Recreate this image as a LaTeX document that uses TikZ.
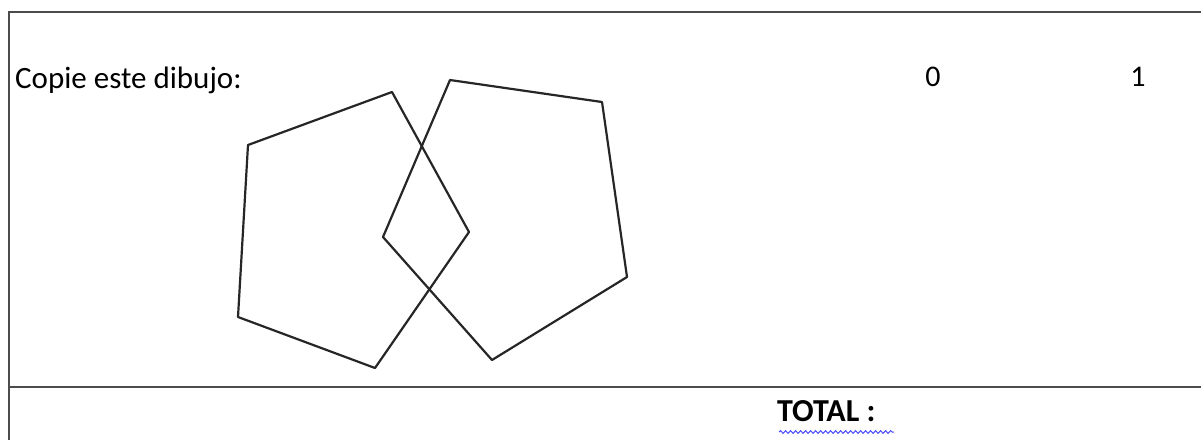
\documentclass[tikz,border=0pt]{standalone}
\usepackage{fontspec}
\setmainfont{Carlito}
\usetikzlibrary{decorations.pathmorphing}
\begin{document}
\begin{tikzpicture}[x=1pt, y=-1pt]
        \useasboundingbox (0,0) rectangle (1201,440);
        % Frame lines
        \draw[line width=2.8pt, black!70] (9,440) -- (9,12) -- (1201,12);
        \draw[line width=2.8pt, black!70] (9,387) -- (1201,387);

        % Labels
        \node[anchor=base west, font=\fontsize{31}{35}\selectfont, inner sep=0] (instr) at (15,88) {Copie este dibujo:};
        \node[font=\fontsize{30}{34}\selectfont] (zero) at (933,77) {0};
        \node[font=\fontsize{30}{34}\selectfont] (one) at (1138,77) {1};
        \node[anchor=base west, font=\bfseries\fontsize{32}{36}\selectfont, inner sep=0] (total) at (777,421) {TOTAL :};

        % Spell-check underline
        \coordinate (wl) at (779,432);
        \coordinate (wr) at (894,432);
        \draw[blue!70, line width=1pt, decorate, decoration={snake, amplitude=1.4pt, segment length=5pt}] (wl) -- (wr);

        % Left pentagon
        \coordinate (la) at (392,92);
        \coordinate (lb) at (248,145);
        \coordinate (lc) at (238,317);
        \coordinate (ld) at (375,368);
        \coordinate (le) at (469,232);
        \draw[line width=2.2pt, black!85, line join=round] (la) -- (lb) -- (lc) -- (ld) -- (le) -- cycle;

        % Right pentagon
        \coordinate (ra) at (450,80);
        \coordinate (rb) at (602,102);
        \coordinate (rc) at (627,277);
        \coordinate (rd) at (492,360);
        \coordinate (re) at (383,237);
        \draw[line width=2.2pt, black!85, line join=round] (ra) -- (rb) -- (rc) -- (rd) -- (re) -- cycle;

    \end{tikzpicture}
\end{document}
